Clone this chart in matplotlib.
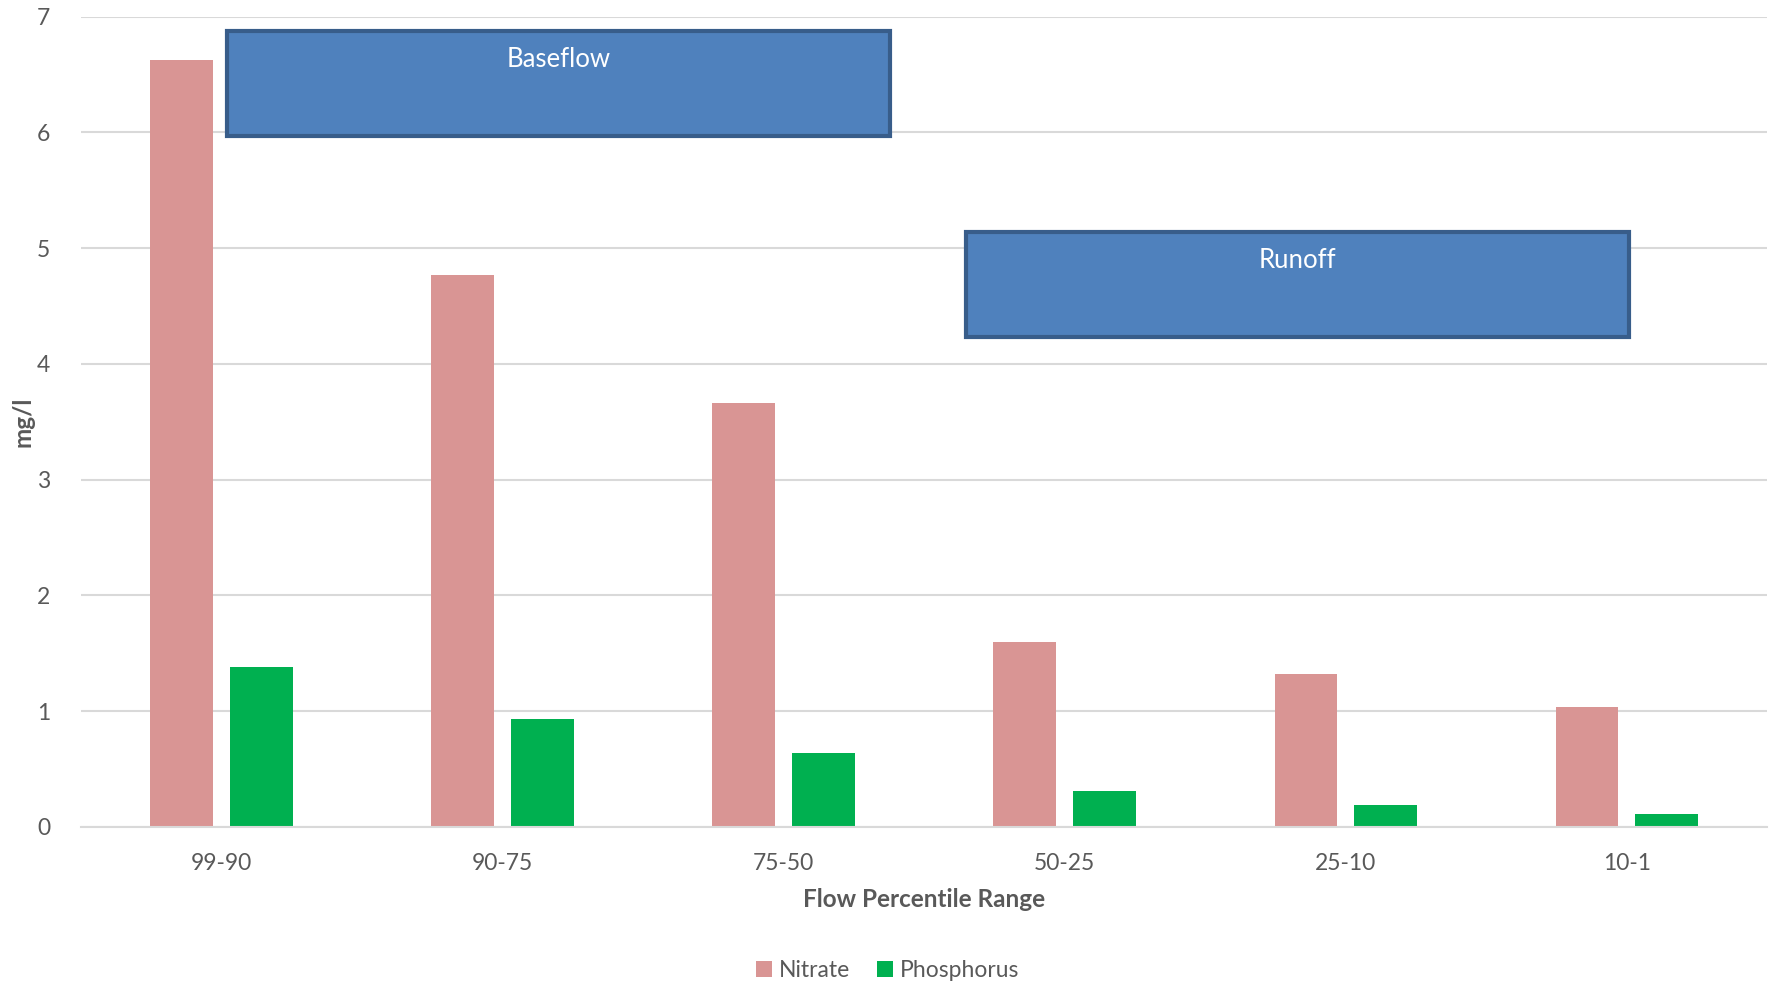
import numpy as np
import matplotlib.pyplot as plt
from matplotlib.patches import Rectangle

plt.rcParams['font.family'] = ['Lato', 'DejaVu Sans']

categories = ['99-90', '90-75', '75-50', '50-25', '25-10', '10-1']
nitrate = [6.63, 4.77, 3.66, 1.60, 1.32, 1.04]
phosphorus = [1.38, 0.93, 0.635, 0.31, 0.19, 0.11]

# shaded annotation boxes: (label, x0, x1, y0, y1) in data units
boxes = [('Baseflow', 0.02, 2.38, 5.97, 6.88),
         ('Runoff', 2.65, 5.01, 4.23, 5.14)]

grey = '#595959'

fig = plt.figure(figsize=(17.75, 9.81), dpi=100)
ax = fig.add_axes([0.0456, 0.157, 0.95, 0.826])

x = np.arange(len(categories))
w = 0.222
ax.bar(x - 0.142, nitrate, w, color='#D99594', label='Nitrate', zorder=2)
ax.bar(x + 0.142, phosphorus, w, color='#00B050', label='Phosphorus', zorder=2)

for label, x0, x1, y0, y1 in boxes:
    ax.add_patch(Rectangle((x0, y0), x1 - x0, y1 - y0, facecolor='#4F81BD',
                           edgecolor='#385D8A', linewidth=3, zorder=3))
    ax.text((x0 + x1) / 2, y1 - 0.14, label, color='white', fontsize=18.5,
            ha='center', va='top', zorder=4)

ax.set_xlim(-0.5, 5.5)
ax.set_ylim(0, 7)
ax.set_yticks(range(8))
ax.set_xticks(x)
ax.set_xticklabels(categories)
ax.grid(axis='y', color='#D9D9D9', linewidth=1.5, zorder=0)
ax.set_axisbelow(True)
for s in ['top', 'right', 'left']:
    ax.spines[s].set_visible(False)
ax.spines['bottom'].set_color('#D9D9D9')
ax.spines['bottom'].set_linewidth(1.5)
ax.tick_params(length=0, labelsize=16.5, labelcolor=grey, pad=19)
ax.tick_params(axis='y', pad=22)

ax.set_xlabel('Flow Percentile Range', fontsize=17.5, fontweight='bold', color=grey, labelpad=10)
ax.set_ylabel('mg/l', fontsize=17.5, fontweight='bold', color=grey, labelpad=2)

fig.legend(loc='center', bbox_to_anchor=(0.5, 0.011), ncol=2, frameon=False,
           fontsize=16.5, labelcolor=grey, handlelength=0.7, handleheight=0.7,
           handletextpad=0.3, columnspacing=1.2)

fig.savefig('out.png', dpi=100)
